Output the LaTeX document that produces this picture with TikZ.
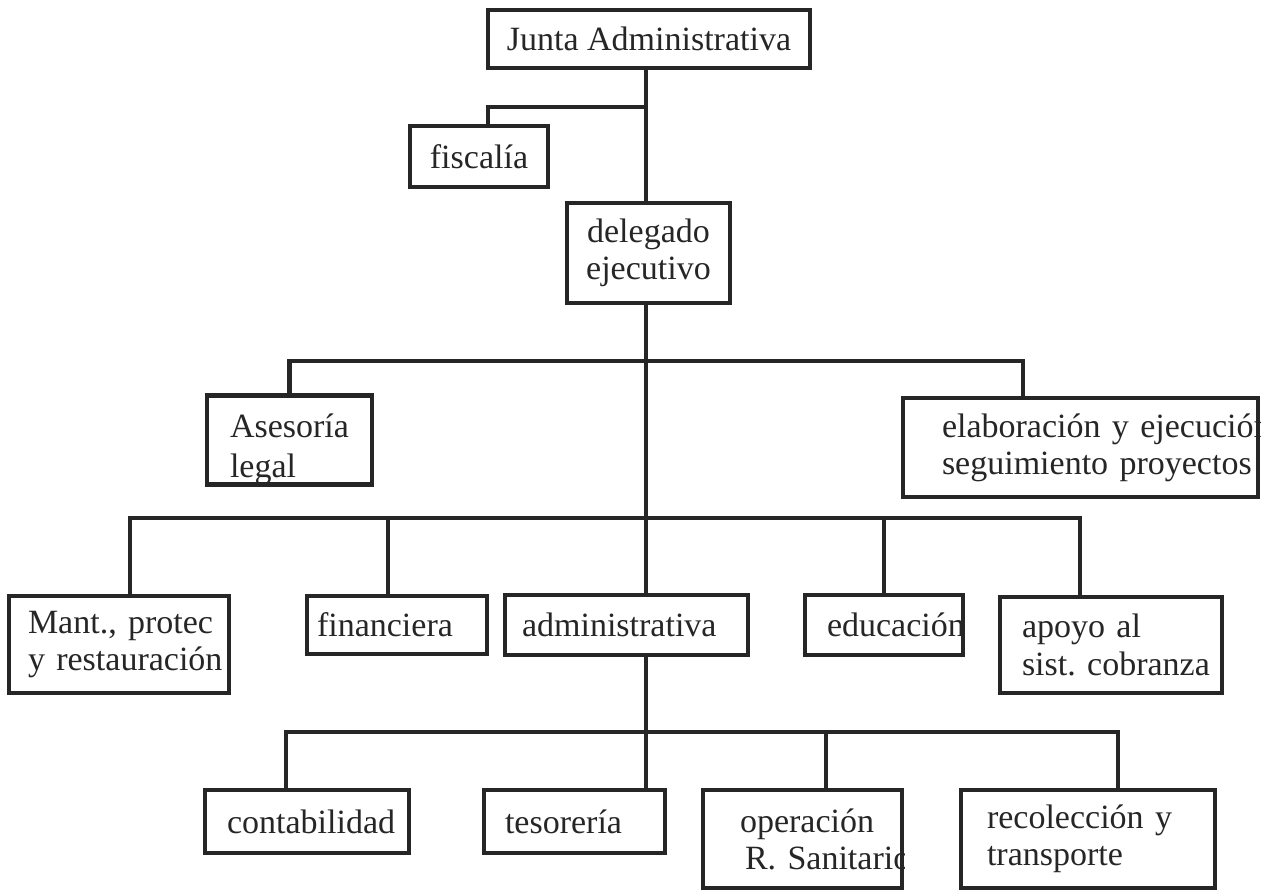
\documentclass[tikz,border=0pt]{standalone}
\usepackage{fontspec}
\setmainfont{Liberation Serif}
\frenchspacing
\definecolor{ink}{gray}{0.15}
\begin{document}
\begin{tikzpicture}[x=1pt,y=-1pt,
  box/.style={draw=ink, text=ink, line width=4.5pt, inner ysep=0pt, align=left,
    font=\fontsize{34}{37}\selectfont},
  cbox/.style={box, align=center, inner xsep=0pt},
  conn/.style={draw=ink, line width=4.5pt}]
\fill[white] (0,0) rectangle (1270,891);
\useasboundingbox (0,0) rectangle (1270,891);

% level 0-1
\node[cbox, minimum width=322pt, minimum height=58pt] (junta) at (649,39) {Junta Administrativa};
\node[cbox, minimum width=138pt, minimum height=61pt] (fisc) at (479,156.5) {fiscalía};
\node[cbox, minimum width=163pt, minimum height=100pt] (deleg) at (648.5,253) {delegado\\ejecutivo};

% level 2
\node[box, inner xsep=23pt, text width=119pt, minimum height=80pt] (ases) at (289.5,440)
  {\rule{0pt}{41.5pt}Asesoría\\[3pt]legal};
\begin{scope}
\clip (0,0) rectangle (1260.25,891);
\node[box, inner xsep=39pt, text width=277pt, minimum height=99pt] (elab) at (1080.5,447.5)
  {\mbox{elaboración y ejecución}\\\mbox{seguimiento proyectos}};
\end{scope}

% level 3
\node[box, inner xsep=19pt, text width=182pt, minimum height=97pt] (mant) at (119,644.5)
  {\mbox{Mant., protec}\\\mbox{y restauración}};
\node[box, inner xsep=10pt, text width=160pt, minimum height=58pt] (fin) at (397,625) {financiera};
\node[box, inner xsep=17pt, text width=209pt, minimum height=60pt] (admin) at (626.5,625) {administrativa};
\begin{scope}
\clip (0,0) rectangle (965.25,891);
\node[box, inner xsep=22pt, text width=114pt, minimum height=60pt] (educ) at (884,625) {\mbox{educación}};
\end{scope}
\node[box, inner xsep=22pt, text width=178pt, minimum height=96pt] (apoyo) at (1111,645)
  {\mbox{apoyo al}\\[1pt]\mbox{sist. cobranza}};

% level 4
\node[box, inner xsep=22pt, text width=160pt, minimum height=63pt] (contab) at (307,821.5) {contabilidad};
\node[box, inner xsep=21pt, text width=139pt, minimum height=63pt] (tes) at (574.5,821.5) {tesorería};
\begin{scope}
\clip (0,0) rectangle (904.25,891);
\node[box, inner xsep=37pt, text width=125pt, minimum height=98pt] (op) at (802.5,839)
  {\mbox{operación}\\\mbox{\hspace*{5pt}R. Sanitario}};
\end{scope}
\node[box, inner xsep=26pt, text width=202pt, minimum height=98pt] (recol) at (1088,839)
  {\mbox{recolección y}\\\mbox{transporte}};

% branch points on the spine
\coordinate (b1) at (646,107);
\coordinate (b2) at (646,361);
\coordinate (b3) at (646,518);
\coordinate (b4) at (646,732);

% spine
\draw[conn] (junta.south -| b1) -- (deleg.north -| b1);
\draw[conn] (deleg.south -| b1) -- (admin.north -| b1);
\draw[conn] (admin.south -| b1) -- (tes.north -| b1);

% branches
\draw[conn] (b1) -| ([xshift=9]fisc.north);
\draw[conn] (b2) -| (ases.north);
\draw[conn] (b2) -| ([xshift=-57.5]elab.north);
\draw[conn] (b3) -| ([xshift=11]mant.north);
\draw[conn] (b3) -| ([xshift=-9]fin.north);
\draw[conn] (b3) -| (educ.north);
\draw[conn] (b3) -| ([xshift=-31]apoyo.north);
\draw[conn] (b4) -| ([xshift=-21]contab.north);
\draw[conn] (b4) -| ([xshift=23.5]op.north);
\draw[conn] (b4) -| ([xshift=30]recol.north);
\end{tikzpicture}
\end{document}
